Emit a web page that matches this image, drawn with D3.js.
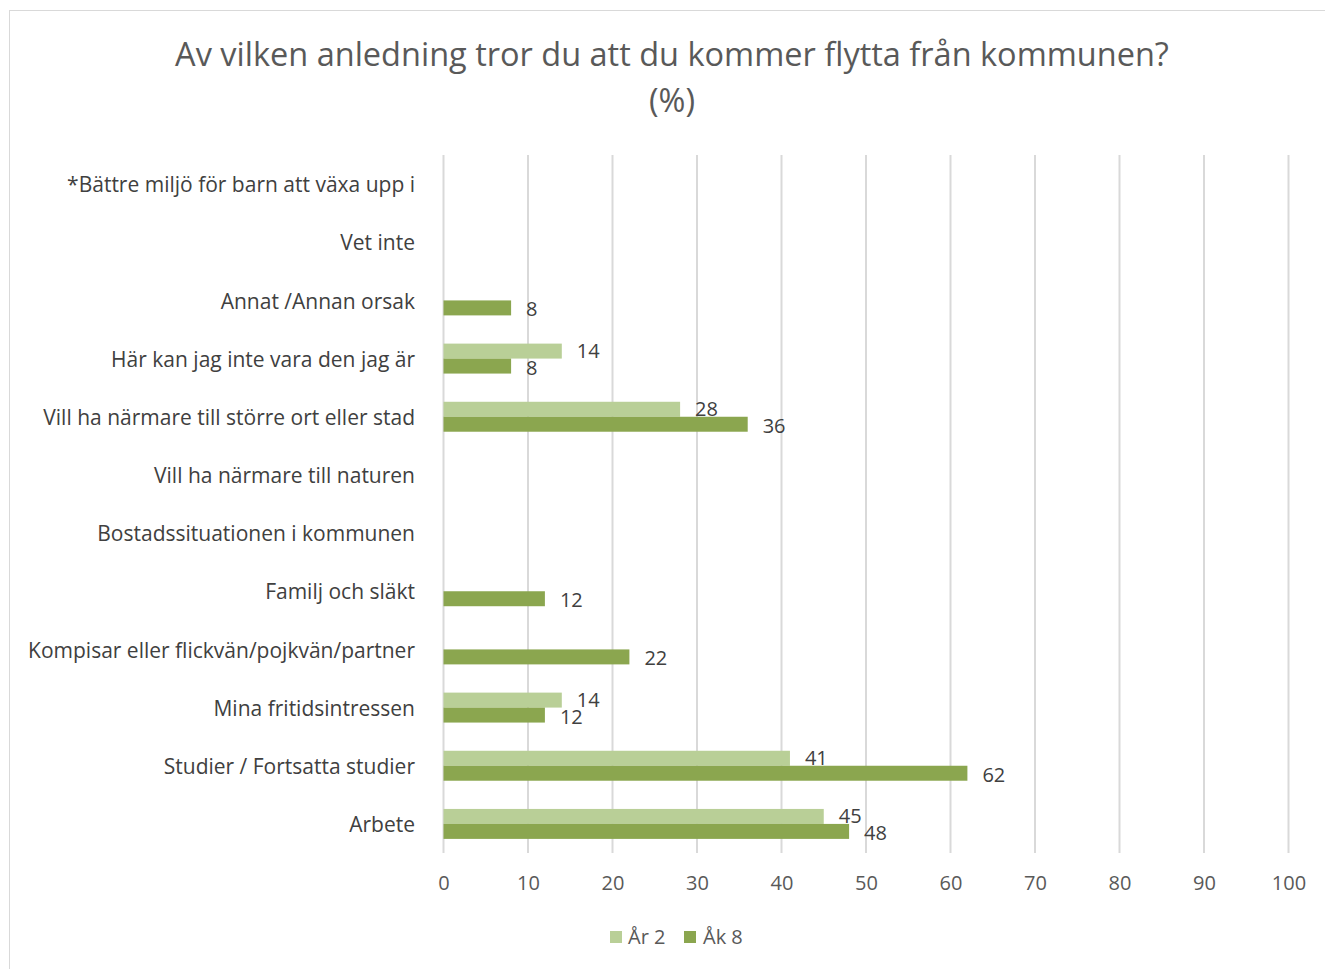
<!DOCTYPE html>
<html>
<head>
<meta charset="utf-8">
<script src="https://cdn.jsdelivr.net/npm/d3@7"></script>
<style>
  html, body { margin: 0; padding: 0; background: #fff; }
  svg { display: block; font-family: "Open Sans", "Noto Sans", sans-serif; }
</style>
</head>
<body>
<svg id="chart" width="1325" height="969"></svg>
<script>
// Reasons for moving away from the municipality, per survey group (%)
const categories = [
  "*Bättre miljö för barn att växa upp i",
  "Vet inte",
  "Annat /Annan orsak",
  "Här kan jag inte vara den jag är",
  "Vill ha närmare till större ort eller stad",
  "Vill ha närmare till naturen",
  "Bostadssituationen i kommunen",
  "Familj och släkt",
  "Kompisar eller flickvän/pojkvän/partner",
  "Mina fritidsintressen",
  "Studier / Fortsatta studier",
  "Arbete"
];
const seriesNames = ["År 2", "Åk 8"];
const ar2 = [null, null, null, 14, 28, null, null, null, null, 14, 41, 45];
const ak8 = [null, null, 8, 8, 36, null, null, 12, 22, 12, 62, 48];
const xTicks = [0, 10, 20, 30, 40, 50, 60, 70, 80, 90, 100];
const titleLines = ["Av vilken anledning tror du att du kommer flytta från kommunen?", "(%)"];

const colors = { "År 2": "#b9cf97", "Åk 8": "#8ba64f" };
const textColor = "#595959";
const labelColor = "#404040";
const fontStack = "\"Open Sans\", \"Noto Sans\", sans-serif";

const svg = d3.select("#chart");
const W = 1325, H = 969;

// outer chart frame
svg.append("rect")
  .attr("x", 9.5).attr("y", 10.5)
  .attr("width", W - 9).attr("height", H)
  .attr("fill", "#fff").attr("stroke", "#d9d9d9").attr("stroke-width", 1);

// title
const title = svg.append("text")
  .attr("text-anchor", "middle")
  .attr("fill", textColor)
  .attr("font-size", 32.5);
title.selectAll("tspan").data(titleLines).join("tspan")
  .attr("x", 672)
  .attr("y", (d, i) => 66 + i * 46)
  .text(d => d);

const plot = { left: 443.5, right: 1288.5, top: 155, bottom: 853 };

const x = d3.scaleLinear().domain([0, 100]).range([plot.left, plot.right]);
const y = d3.scaleBand().domain(categories).range([plot.top, plot.bottom]).paddingInner(0.485).paddingOuter(0.2425);
const ySub = d3.scaleBand().domain(seriesNames).range([0, y.bandwidth()]);

// vertical gridlines
svg.append("g").selectAll("line").data(xTicks).join("line")
  .attr("x1", d => x(d)).attr("x2", d => x(d))
  .attr("y1", plot.top).attr("y2", plot.bottom)
  .attr("stroke", "#d9d9d9").attr("stroke-width", 2);

// x axis tick labels
const xAxis = d3.axisBottom(x).tickValues(xTicks).tickSize(0).tickPadding(0);
const gx = svg.append("g").attr("transform", `translate(0, ${plot.bottom + 30})`).call(xAxis);
gx.select(".domain").remove();
gx.selectAll("text")
  .attr("fill", textColor)
  .attr("font-size", 20)
  .attr("font-family", fontStack)
  .attr("dy", "0.35em")
  .attr("y", 0);

// category labels
const yAxis = d3.axisLeft(y).tickSize(0).tickPadding(0);
const gy = svg.append("g").attr("transform", `translate(415, 1.5)`).call(yAxis);
gy.select(".domain").remove();
gy.selectAll("text")
  .attr("fill", labelColor)
  .attr("font-size", 21)
  .attr("font-family", fontStack)
  .attr("x", 0);

// bars
const rows = [];
categories.forEach((c, i) => {
  rows.push({ cat: c, series: "År 2", value: ar2[i] });
  rows.push({ cat: c, series: "Åk 8", value: ak8[i] });
});
const present = rows.filter(r => r.value != null);

svg.append("g").selectAll("rect").data(present).join("rect")
  .attr("x", x(0))
  .attr("y", d => y(d.cat) + ySub(d.series))
  .attr("width", d => x(d.value) - x(0))
  .attr("height", ySub.bandwidth())
  .attr("fill", d => colors[d.series]);

// value labels
svg.append("g").selectAll("text").data(present).join("text")
  .attr("x", d => x(d.value) + 15)
  .attr("y", d => y(d.cat) + ySub(d.series) + ySub.bandwidth() / 2 + (d.series === "År 2" ? 0 : 1.5))
  .attr("dy", "0.35em")
  .attr("fill", labelColor)
  .attr("font-size", 20)
  .text(d => d.value);

// legend
const legend = svg.append("g");
const legendItems = [
  { name: "År 2", sx: 610, tx: 628 },
  { name: "Åk 8", sx: 684, tx: 703 }
];
legendItems.forEach(it => {
  legend.append("rect").attr("x", it.sx).attr("y", 931).attr("width", 12).attr("height", 12)
    .attr("fill", colors[it.name]);
  legend.append("text").attr("x", it.tx).attr("y", 937).attr("dy", "0.35em")
    .attr("fill", textColor).attr("font-size", 20).text(it.name);
});
</script>
</body>
</html>
